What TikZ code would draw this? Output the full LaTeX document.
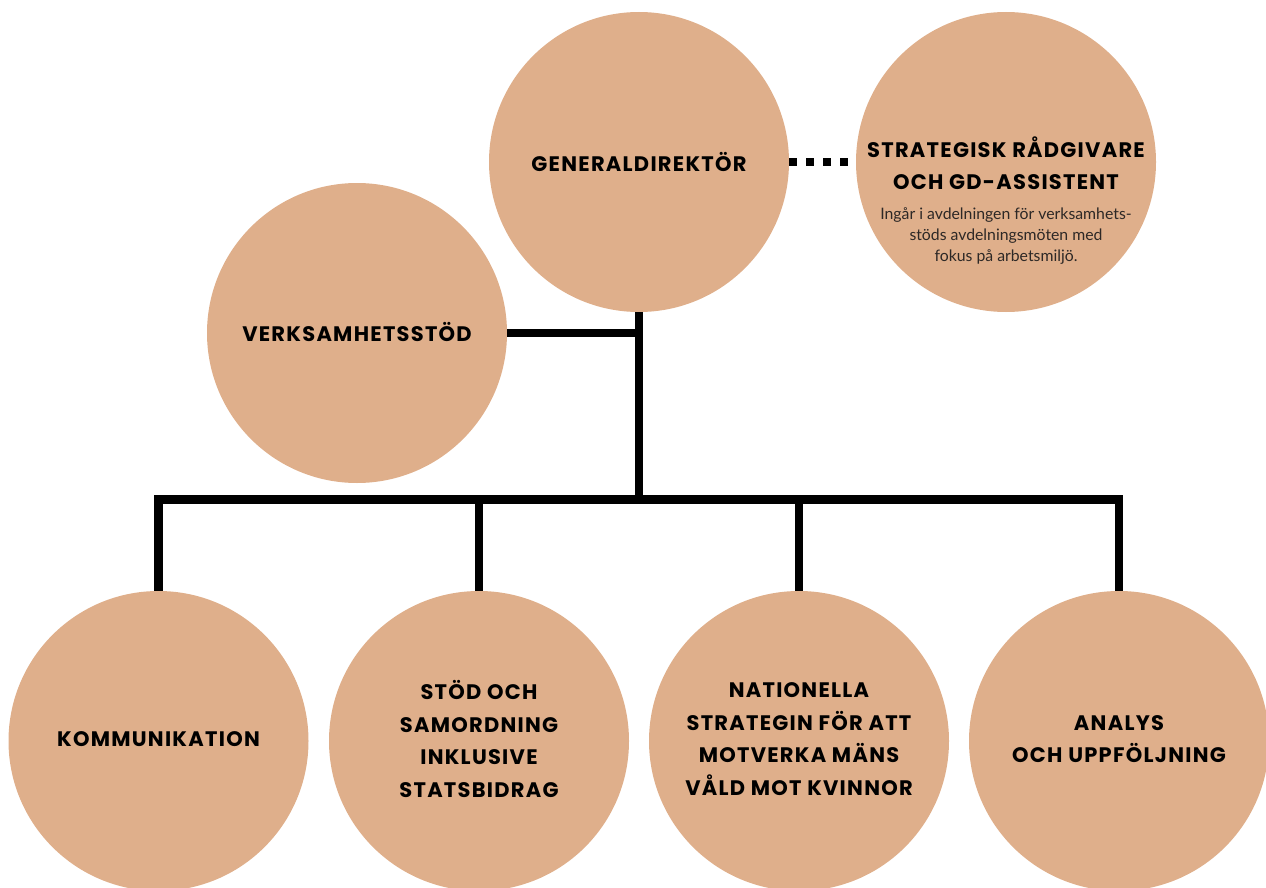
\documentclass[tikz,border=0pt]{standalone}
\usepackage{fontspec}
\setmainfont{Lato}
\newfontfamily\titlefont[LetterSpace=6]{Poppins}
\definecolor{tan}{RGB}{223,175,139}
\definecolor{smalltext}{RGB}{45,40,38}
\begin{document}
\begin{tikzpicture}[x=1pt,y=-1pt,
  unit/.style={circle,fill=tan,draw=none,minimum size=300pt,inner sep=0pt},
  ttl/.style={align=center,font=\titlefont\bfseries\fontsize{21}{32.5}\selectfont,text=black,inner sep=0pt},
  note/.style={align=center,font=\fontsize{15.8}{21}\selectfont,text=smalltext,inner sep=0pt},
  conn/.style={line width=8.5pt,black,line join=miter,line cap=butt},
  dots/.style={line width=8pt,black,dash pattern=on 8pt off 9pt}]
\useasboundingbox (0,0) rectangle (1266,888);
\clip (0,0) rectangle (1266,888);
% circles
\node[unit] (gd)  at (639,162) {};
\node[unit] (sr)  at (1006,162) {};
\node[unit] (vs)  at (357,333) {};
\node[unit] (kom) at (158.5,741) {};
\node[unit] (sto) at (479,741) {};
\node[unit] (nat) at (799,741) {};
\node[unit] (ana) at (1119,741) {};
% texts
\node[ttl] (gdt) at (639,162) {GENERALDIREKTÖR};
\node[ttl] (srt) at (1006,163) {STRATEGISK RÅDGIVARE\\OCH GD-ASSISTENT};
\node[note] (srn) at (1006,236) {Ingår i avdelningen för verksamhets-\\stöds avdelningsmöten med\\fokus på arbetsmiljö.};
\node[ttl] (vst) at (357,332) {VERKSAMHETSSTÖD};
\node[ttl] (komt) at (158.5,739) {KOMMUNIKATION};
\node[ttl] (stot) at (479,739) {STÖD OCH\\SAMORDNING\\INKLUSIVE\\STATSBIDRAG};
\node[ttl] (natt) at (799,739) {NATIONELLA\\STRATEGIN FÖR ATT\\MOTVERKA MÄNS\\VÅLD MOT KVINNOR};
\node[ttl] (anat) at (1119,739) {ANALYS\\OCH UPPFÖLJNING};
% connectors
\coordinate (bus) at (639,499.5);
\draw[conn] (gd.south) -- (bus);
\draw[conn] (vs.east) -- (vs.east -| gd.south);
\draw[conn] (kom.north) -- (kom.north |- bus) -- (ana.north |- bus) -- (ana.north);
\draw[conn] (sto.north) -- (sto.north |- bus);
\draw[conn] (nat.north) -- (nat.north |- bus);
\draw[dots] (gd.east) -- (sr.west);
\end{tikzpicture}
\end{document}
